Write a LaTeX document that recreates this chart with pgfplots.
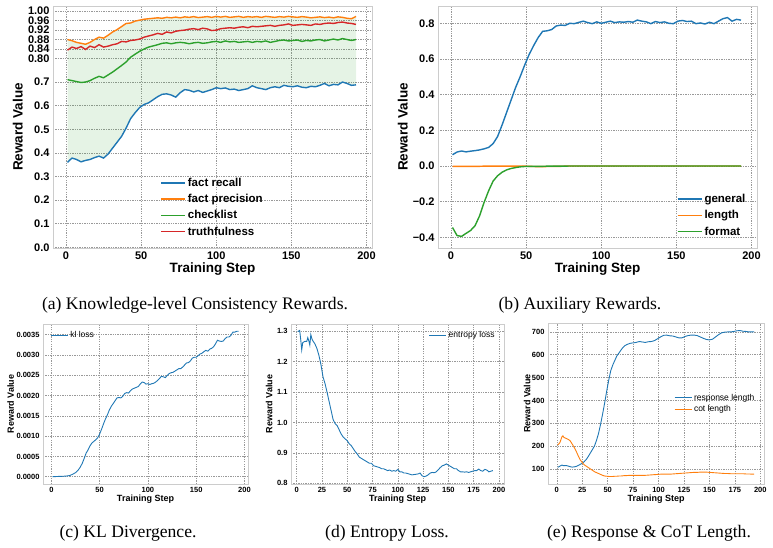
\documentclass[border=0pt]{standalone}
\usepackage{fontspec}
\setmainfont{Liberation Serif}
\newfontfamily\arial{Liberation Sans}
\usepackage{pgfplots}
\pgfplotsset{compat=1.18}
\usepackage{pgfplotstable}
\usepgfplotslibrary{fillbetween}

\definecolor{mblue}{HTML}{1F77B4}
\definecolor{morange}{HTML}{FF7F0E}
\definecolor{mgreen}{HTML}{2CA02C}
\definecolor{mred}{HTML}{D62728}

% (a) knowledge-level consistency rewards
\pgfplotstableread{
step recall precision checklist truth
1   0.360 0.880 0.710 0.835
4   0.378 0.875 0.706 0.848
7   0.372 0.868 0.702 0.842
10  0.362 0.864 0.698 0.850
13  0.368 0.860 0.700 0.838
16  0.372 0.868 0.706 0.852
19  0.380 0.880 0.716 0.846
22  0.386 0.890 0.724 0.858
25  0.378 0.886 0.718 0.848
28  0.395 0.898 0.730 0.852
31  0.420 0.912 0.742 0.858
34  0.445 0.922 0.756 0.862
37  0.470 0.935 0.770 0.872
40  0.505 0.948 0.785 0.870
43  0.545 0.950 0.805 0.876
46  0.570 0.958 0.818 0.878
49  0.592 0.962 0.830 0.882
52  0.605 0.966 0.840 0.890
55  0.612 0.968 0.848 0.895
58  0.625 0.970 0.853 0.900
61  0.638 0.972 0.858 0.906
64  0.648 0.970 0.864 0.902
67  0.650 0.974 0.866 0.912
70  0.645 0.972 0.862 0.908
73  0.636 0.975 0.866 0.915
76  0.655 0.972 0.868 0.918
79  0.668 0.976 0.866 0.920
82  0.665 0.974 0.862 0.924
85  0.658 0.977 0.866 0.926
88  0.664 0.973 0.868 0.922
91  0.656 0.975 0.864 0.928
94  0.662 0.977 0.866 0.925
97  0.668 0.974 0.870 0.918
100 0.676 0.978 0.872 0.920
103 0.672 0.975 0.868 0.926
106 0.675 0.978 0.874 0.928
109 0.668 0.974 0.870 0.930
112 0.670 0.976 0.872 0.928
115 0.664 0.978 0.868 0.932
118 0.668 0.974 0.870 0.934
121 0.672 0.977 0.872 0.930
124 0.684 0.975 0.868 0.936
127 0.676 0.977 0.872 0.934
130 0.672 0.974 0.870 0.936
133 0.668 0.978 0.874 0.938
136 0.676 0.976 0.868 0.940
139 0.680 0.974 0.872 0.936
142 0.676 0.977 0.876 0.940
145 0.686 0.975 0.878 0.942
148 0.682 0.978 0.874 0.946
151 0.680 0.976 0.876 0.940
154 0.684 0.974 0.878 0.942
157 0.678 0.977 0.872 0.944
160 0.676 0.975 0.876 0.942
163 0.682 0.972 0.874 0.940
166 0.680 0.974 0.878 0.946
169 0.686 0.976 0.880 0.944
172 0.694 0.973 0.874 0.948
175 0.684 0.975 0.878 0.950
178 0.690 0.972 0.882 0.948
181 0.688 0.976 0.878 0.952
184 0.700 0.974 0.884 0.954
187 0.694 0.970 0.880 0.950
190 0.686 0.968 0.876 0.948
193 0.688 0.978 0.880 0.944
}\tabA

% (b) auxiliary rewards
\pgfplotstableread{
step general length format
1   0.063 -0.002 -0.345
4   0.078 -0.002 -0.390
7   0.084 -0.002 -0.395
10  0.079 -0.002 -0.378
13  0.083 -0.002 -0.362
16  0.086 -0.002 -0.335
19  0.090 -0.002 -0.280
22  0.096 -0.001 -0.205
25  0.104 -0.001 -0.140
28  0.125 -0.001 -0.085
31  0.165 -0.001 -0.055
34  0.230 -0.001 -0.035
37  0.300 -0.001 -0.022
40  0.370 -0.001 -0.014
43  0.440 -0.001 -0.009
46  0.500 -0.001 -0.005
49  0.565 -0.001 -0.003
52  0.625 -0.002 -0.002
55  0.675 -0.003 -0.002
58  0.720 -0.004 -0.002
61  0.755 -0.004 -0.002
64  0.758 -0.003 -0.001
67  0.765 -0.003 -0.001
70  0.785 -0.002 -0.001
73  0.790 -0.002 -0.001
76  0.788 -0.001 -0.001
79  0.800 0.000 0.000
82  0.798 0.000 0.000
85  0.805 0.000 0.000
88  0.812 0.000 0.000
91  0.804 0.000 0.000
94  0.798 0.000 0.000
97  0.808 0.000 0.000
100 0.800 0.000 0.000
103 0.806 0.000 0.000
106 0.812 0.000 0.000
109 0.804 0.000 0.000
112 0.808 0.000 0.000
115 0.806 0.000 0.000
118 0.810 0.000 0.000
121 0.806 0.000 0.000
124 0.818 0.000 0.000
127 0.812 0.000 0.000
130 0.808 0.000 0.000
133 0.798 0.000 0.000
136 0.810 0.000 0.000
139 0.804 0.000 0.000
142 0.808 0.000 0.000
145 0.800 0.000 0.000
148 0.798 0.000 0.000
151 0.812 0.000 0.000
154 0.816 0.000 0.000
157 0.810 0.000 0.000
160 0.812 0.000 0.000
163 0.798 0.000 0.000
166 0.802 0.000 0.000
169 0.796 0.000 0.000
172 0.806 0.000 0.000
175 0.798 0.000 0.000
178 0.812 0.000 0.000
181 0.826 0.000 0.000
184 0.832 0.000 0.000
187 0.812 0.000 0.000
190 0.822 0.000 0.000
193 0.818 0.000 0.000
}\tabB

% (c) KL divergence
\pgfplotstableread{
step kl
1 0.0000
5 0.000005
10 0.00001
15 0.000015
19 0.00003
22 0.00006
25 0.0001
28 0.00017
30 0.00024
32 0.00033
34 0.00045
36 0.00058
38 0.00066
40 0.00076
42 0.00083
44 0.00087
46 0.00091
48 0.00096
50 0.00105
52 0.00117
54 0.0013
56 0.00142
58 0.00152
60 0.00164
62 0.00173
64 0.0018
66 0.00187
68 0.00194
70 0.00195
72 0.00194
74 0.00198
76 0.00205
78 0.00207
80 0.00206
82 0.00212
84 0.00216
86 0.00218
88 0.0022
90 0.00222
92 0.00228
94 0.00233
96 0.00232
98 0.00228
100 0.00229
102 0.00227
104 0.00229
106 0.0023
108 0.00233
110 0.00237
112 0.00242
114 0.00247
116 0.00246
118 0.00244
120 0.00249
122 0.00254
124 0.00256
126 0.00257
128 0.0026
130 0.00263
132 0.00266
134 0.00266
136 0.0027
138 0.00275
140 0.0028
142 0.00281
144 0.00285
146 0.00292
148 0.00294
150 0.00294
152 0.00298
154 0.00302
156 0.00304
158 0.00308
160 0.00311
162 0.00309
164 0.00314
166 0.00316
168 0.0032
170 0.00327
172 0.00336
174 0.00334
176 0.00333
178 0.00334
180 0.0034
182 0.00344
184 0.00344
186 0.00348
188 0.00356
190 0.00356
192 0.00358
194 0.00358
}\tabC

% (d) entropy loss
\pgfplotstableread{
step ent
1 1.298
3 1.302
4 1.272
5 1.238
6 1.262
8 1.266
10 1.266
11 1.278
12 1.268
13 1.254
14 1.288
15 1.275
16 1.268
18 1.258
20 1.243
22 1.220
24 1.190
26 1.150
28 1.128
30 1.100
32 1.070
34 1.040
36 1.010
38 0.996
40 0.990
42 0.976
44 0.962
46 0.952
48 0.946
50 0.940
52 0.930
54 0.924
56 0.914
58 0.904
60 0.896
62 0.886
64 0.882
66 0.878
68 0.874
70 0.870
72 0.866
74 0.866
76 0.858
78 0.856
80 0.854
82 0.852
84 0.848
86 0.848
88 0.845
90 0.842
92 0.844
94 0.840
96 0.842
98 0.840
100 0.846
102 0.838
104 0.838
106 0.834
108 0.834
110 0.832
112 0.830
114 0.828
116 0.829
118 0.830
120 0.831
122 0.834
124 0.825
126 0.822
128 0.824
130 0.828
132 0.834
134 0.836
136 0.835
138 0.838
140 0.845
142 0.852
144 0.858
146 0.860
148 0.864
150 0.860
152 0.856
154 0.852
156 0.848
158 0.848
160 0.842
162 0.838
164 0.838
166 0.837
168 0.838
170 0.836
172 0.838
174 0.840
176 0.842
178 0.842
180 0.847
182 0.842
184 0.840
186 0.846
188 0.844
190 0.838
192 0.840
194 0.842
}\tabD

% (e) response and CoT length
\pgfplotstableread{
step resp cot
1 107 205
3 112 215
5 117 240
6 115 245
7 114 238
9 115 234
11 113 230
13 110 224
15 108 210
17 109 195
19 111 178
21 115 158
23 120 140
25 125 128
27 132 118
29 142 112
31 155 106
33 170 100
35 185 94
37 200 88
39 225 84
41 255 80
43 295 76
45 340 72
47 388 69
49 440 68
51 488 67
53 530 67
55 555 67
57 575 68
59 595 68
61 607 69
63 620 69
65 632 70
67 640 71
69 645 71
72 650 72
75 652 72
78 654 72
81 658 72
84 656 72
87 654 72
90 657 73
93 658 74
96 662 75
99 670 76
102 678 77
105 685 77
108 686 77
111 683 77
114 682 78
117 678 79
120 674 80
123 674 81
126 680 82
129 684 83
132 686 84
135 686 85
138 684 85
141 678 86
144 672 86
147 667 86
150 665 85
153 668 84
156 678 83
159 688 82
162 696 81
165 699 80
168 700 80
171 700 79
174 702 79
177 705 79
180 706 79
183 703 79
186 702 78
189 700 78
192 700 77
194 701 77
}\tabE

\pgfplotsset{
  mpl/.style={
    scale only axis,
    anchor=north west,
    axis line style={draw=black!20, line width=1pt},
    grid=major,
    major grid style={draw=black!40, line width=0.55pt, dash pattern=on 1.3pt off 1.1pt},
    major tick length=0pt,
    tick style={draw=none},
    /pgf/number format/assume math mode=true,
    scaled ticks=false,
    legend cell align=left,
    ylabel style={anchor=center},
    xlabel style={anchor=center},
    xlabel={Training Step},
    ylabel={Reward Value},
  },
  toprow/.style={mpl, width=319pt, height=242pt,
    tick label style={font=\arial\bfseries\fontsize{11}{13}\selectfont},
    label style={font=\arial\bfseries\fontsize{13.5}{16}\selectfont},
    legend style={font=\arial\bfseries\fontsize{11.5}{14}\selectfont, row sep=2.4pt},
    xmin=-8.65, xmax=203.65, xtick={0,50,100,150,200},
    xlabel style={at={(axis description cs:0.5,-0.087)}},
    ylabel style={at={(axis description cs:-0.11,0.5)}},
  },
  botrow/.style={mpl,
    tick label style={font=\arial\bfseries\fontsize{7.5}{9}\selectfont},
    label style={font=\arial\bfseries\fontsize{9}{11}\selectfont},
    legend style={font=\arial\fontsize{8.5}{10}\selectfont},
    xlabel style={at={(axis description cs:0.5,-0.094)}},
  },
  thick line/.style={line width=1.4pt},
  thin line/.style={line width=0.9pt},
  % legend swatch: a short coloured stroke; the frame of the legend box is left undrawn
  top key/.style={legend style={draw=none, fill=none},
    legend image code/.code={\path[draw=##1, line width=1.6pt] (0pt,0pt) -- (24pt,0pt);}},
  bot key/.style={legend style={draw=none, fill=none},
    legend image code/.code={\path[draw=##1, line width=1pt] (0pt,0pt) -- (17pt,0pt);}},
}

\begin{document}
\begin{tikzpicture}

% ---------- (a) ----------
\begin{axis}[toprow, top key, at={(53pt,-6pt)},
  ymin=-0.003, ymax=1.022,
  ytick={0,0.1,0.2,0.3,0.4,0.5,0.6,0.7,0.8,0.84,0.88,0.92,0.96,1.0},
  yticklabels={0.0,0.1,0.2,0.3,0.4,0.5,0.6,0.7,0.80,0.84,0.88,0.92,0.96,1.00},
  legend style={at={(0.5,0.03)}, anchor=south},
]
\addplot[draw=none, name path=rec, forget plot] table[x=step, y=recall] {\tabA};
\addplot[draw=none, name path=pre, forget plot] table[x=step, y=precision] {\tabA};
\addplot[fill=mgreen, fill opacity=0.12, draw=none, forget plot] fill between[of=rec and pre];
\addplot[mblue, thick line, forget plot] table[x=step, y=recall] {\tabA};
\addplot[morange, thick line, forget plot] table[x=step, y=precision] {\tabA};
\addplot[mgreen, thick line, forget plot] table[x=step, y=checklist] {\tabA};
\addplot[mred, thick line, forget plot] table[x=step, y=truth] {\tabA};
\addlegendimage{mblue}\addlegendentry{fact recall}
\addlegendimage{morange}\addlegendentry{fact precision}
\addlegendimage{mgreen}\addlegendentry{checklist}
\addlegendimage{mred}\addlegendentry{truthfulness}
\end{axis}

% ---------- (b) ----------
\begin{axis}[toprow, top key, at={(438pt,-6pt)},
  ymin=-0.46, ymax=0.897,
  ytick={-0.4,-0.2,0,0.2,0.4,0.6,0.8},
  yticklabels={−0.4,−0.2,0.0,0.2,0.4,0.6,0.8},
  legend style={at={(0.98,0.03)}, anchor=south east},
]
\addplot[mblue, thick line, forget plot] table[x=step, y=general] {\tabB};
\addplot[morange, thick line, forget plot] table[x=step, y=length] {\tabB};
\addplot[mgreen, thick line, forget plot] table[x=step, y=format] {\tabB};
\addlegendimage{mblue}\addlegendentry{general}
\addlegendimage{morange}\addlegendentry{length}
\addlegendimage{mgreen}\addlegendentry{format}
\end{axis}

% ---------- (c) ----------
\begin{axis}[botrow, bot key, at={(43pt,-324pt)}, width=205pt, height=160pt,
  xmin=-8.65, xmax=203.65, xtick={0,50,100,150,200},
  ymin=-0.000179, ymax=0.003759,
  ytick={0,0.0005,0.001,0.0015,0.002,0.0025,0.003,0.0035},
  yticklabels={0.0000,0.0005,0.0010,0.0015,0.0020,0.0025,0.0030,0.0035},
  ylabel style={at={(axis description cs:-0.158,0.5)}},
  legend style={at={(0.02,0.98)}, anchor=north west},
]
\addplot[mblue, thin line, forget plot] table[x=step, y=kl] {\tabC};
\addlegendimage{mblue}\addlegendentry{kl loss}
\end{axis}

% ---------- (d) ----------
\begin{axis}[botrow, bot key, at={(291pt,-324pt)}, width=213pt, height=160pt,
  xmin=-5.6, xmax=205, xtick={0,25,50,75,100,125,150,175,200},
  ymin=0.798, ymax=1.323,
  ytick={0.8,0.9,1.0,1.1,1.2,1.3},
  yticklabels={0.8,0.9,1.0,1.1,1.2,1.3},
  ylabel style={at={(axis description cs:-0.103,0.5)}},
  legend style={at={(0.98,0.98)}, anchor=north east},
]
\addplot[mblue, thin line, forget plot] table[x=step, y=ent] {\tabD};
\addlegendimage{mblue}\addlegendentry{entropy loss}
\end{axis}

% ---------- (e) ----------
\begin{axis}[botrow, bot key, at={(548pt,-323pt)}, width=216pt, height=161pt,
  xmin=-8.65, xmax=203.65, xtick={0,25,50,75,100,125,150,175,200},
  ymin=34, ymax=739,
  ytick={100,200,300,400,500,600,700},
  ylabel style={at={(axis description cs:-0.097,0.5)}},
  legend style={at={(0.98,0.5)}, anchor=east},
]
\addplot[mblue, thin line, forget plot] table[x=step, y=resp] {\tabE};
\addplot[morange, thin line, forget plot] table[x=step, y=cot] {\tabE};
\addlegendimage{mblue}\addlegendentry{response length}
\addlegendimage{morange}\addlegendentry{cot length}
\end{axis}

% ---------- captions ----------
\begin{scope}[every node/.style={font=\fontsize{17.6}{20}\selectfont, inner sep=0pt}]
\node at (195pt,-305pt) {(a) Knowledge-level Consistency Rewards.};
\node at (580pt,-305pt) {(b) Auxiliary Rewards.};
\node at (128pt,-533pt) {(c) KL Divergence.};
\node at (387pt,-533pt) {(d) Entropy Loss.};
\node at (649pt,-533pt) {(e) Response \& CoT Length.};
\end{scope}

% fixed page frame
\pgfresetboundingbox
\useasboundingbox (0,0) rectangle (773pt,-547pt);
\end{tikzpicture}
\end{document}
